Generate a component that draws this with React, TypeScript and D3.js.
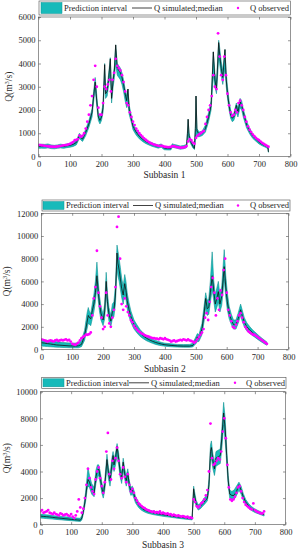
import * as d3 from 'd3';
import React, { useEffect, useRef } from 'react';

// ---- Subbasin 1 ----
const days1 = [0, 10, 20, 30, 40, 50, 60, 70, 80, 90, 100, 110, 120, 130, 135, 140, 150, 160, 170, 175, 180, 183, 187, 190, 195, 200, 205, 210, 213, 218, 223, 228, 232, 237, 241, 245, 250, 255, 260, 265, 270, 275, 280, 284, 288, 295, 300, 310, 320, 330, 340, 350, 360, 370, 380, 390, 395, 400, 410, 420, 425, 430, 440, 450, 460, 470, 473, 475, 478, 483, 490, 495, 498, 500, 503, 510, 520, 530, 540, 548, 555, 560, 565, 572, 575, 580, 585, 592, 596, 600, 605, 610, 615, 620, 628, 633, 640, 645, 650, 660, 670, 680, 690, 700, 710, 720, 728, 730];
const med1 = [430, 440, 430, 450, 420, 400, 420, 450, 430, 460, 480, 520, 600, 900, 800, 750, 1050, 1400, 1900, 2600, 3200, 2700, 2100, 1700, 1550, 1700, 2100, 3950, 2700, 2800, 3400, 4200, 2500, 3300, 3700, 4800, 3800, 3700, 3600, 3400, 3100, 2700, 2400, 2900, 2000, 1600, 1300, 1050, 870, 750, 650, 580, 520, 470, 430, 470, 400, 360, 350, 350, 480, 450, 420, 380, 400, 450, 1000, 1600, 900, 650, 450, 350, 1200, 2600, 1100, 950, 1000, 1200, 1700, 2200, 4500, 3300, 2900, 4900, 4400, 3800, 3400, 4600, 3300, 2700, 2200, 1800, 1650, 1700, 2200, 1900, 2350, 2200, 1900, 1400, 1100, 880, 750, 620, 530, 460, 400, 200];
const lo1 = [350, 360, 350, 370, 340, 330, 350, 370, 350, 380, 400, 430, 500, 780, 700, 650, 900, 1250, 1700, 2350, 2900, 2450, 1900, 1550, 1400, 1550, 1900, 3300, 2500, 2600, 3100, 3500, 2300, 3000, 3400, 4000, 3500, 3400, 3300, 3100, 2800, 2400, 2100, 2300, 1800, 1450, 1150, 920, 760, 650, 560, 500, 440, 400, 360, 400, 330, 290, 280, 280, 400, 380, 350, 310, 330, 380, 700, 900, 700, 550, 370, 300, 700, 900, 850, 850, 900, 1050, 1500, 2000, 3500, 3000, 2700, 4200, 4000, 3500, 3100, 3800, 3000, 2500, 2000, 1650, 1500, 1550, 1900, 1700, 2100, 2000, 1700, 1250, 980, 780, 660, 540, 460, 400, 340, 180];
const hi1 = [520, 530, 520, 540, 500, 480, 500, 530, 510, 540, 570, 620, 700, 1000, 900, 860, 1180, 1550, 2050, 2800, 3400, 2950, 2300, 1850, 1700, 1850, 2300, 4000, 2900, 3000, 3600, 4250, 2800, 3500, 3900, 4800, 4000, 3900, 3800, 3600, 3300, 2900, 2600, 2900, 2200, 1750, 1450, 1150, 970, 840, 730, 650, 590, 540, 500, 540, 470, 430, 420, 420, 550, 520, 490, 450, 470, 520, 1100, 1600, 1000, 750, 530, 450, 1300, 2600, 1200, 1050, 1100, 1350, 1900, 2400, 4500, 3600, 3200, 5000, 4700, 4100, 3700, 4600, 3600, 3000, 2400, 2000, 1800, 1850, 2300, 2100, 2500, 2400, 2050, 1550, 1220, 980, 840, 700, 600, 530, 460, 420];
// observed, one value every 5 days from day 0 to 730
const obs1 = [
  500, 490, 480, 470, 460, 450, 440, 430, 420, 420, 410, 420, 430, 440, 450, 470, 480, 490, 500, 520,
  540, 580, 620, 700, 710, 750, 900, 850, 900, 1000, 1200, 1500, 1800, 2200, 2600, 3300, 3900, 3000, 2100, 1800,
  1800, 2300, 3000, 2900, 3100, 3300, 2800, 3300, 3600, 4200, 3900, 3800, 3700, 3500, 3200, 2800, 2300, 2200, 1900, 1700,
  1500, 1350, 1200, 1100, 1000, 920, 850, 780, 720, 670, 620, 580, 550, 520, 500, 480, 460, 450, 470, 440,
  420, 410, 400, 400, 410, 450, 440, 420, 400, 390, 380, 380, 390, 400, 450, 650, 750, 700, 600, 550,
  800, 900, 950, 1000, 1050, 1100, 1400, 1700, 2000, 2200, 2600, 3500, 3000, 2900, 5300, 4300, 3500, 3300, 4300, 3500,
  2700, 2200, 1900, 1750, 1800, 2000, 1900, 2300, 2400, 2200, 2000, 1700, 1500, 1300, 1150, 1050, 950, 870, 800, 750,
  700, 640, 590, 540, 500, 460, 420,
];

// ---- Subbasin 2 ----
const days2 = [0, 10, 20, 30, 40, 50, 60, 70, 80, 90, 100, 110, 120, 130, 140, 148, 152, 156, 160, 165, 170, 175, 180, 184, 188, 193, 200, 205, 210, 214, 219, 225, 230, 235, 240, 245, 248, 252, 256, 260, 265, 270, 274, 278, 284, 290, 300, 310, 320, 330, 340, 350, 360, 370, 380, 390, 400, 420, 440, 460, 480, 490, 500, 505, 510, 520, 527, 532, 537, 542, 547, 553, 558, 563, 568, 573, 578, 584, 592, 597, 602, 608, 615, 622, 630, 637, 645, 650, 657, 665, 675, 685, 695, 705, 715, 725, 730];
const med2 = [600, 560, 520, 480, 440, 400, 380, 360, 340, 320, 310, 300, 320, 450, 1200, 2400, 3000, 2800, 2700, 3400, 4000, 5000, 6500, 5200, 4100, 3200, 2600, 3300, 6000, 4200, 3100, 2500, 3300, 3500, 4800, 8500, 7600, 7000, 6200, 5400, 4800, 5800, 5200, 4300, 3500, 2900, 2200, 1800, 1450, 1200, 1000, 850, 720, 620, 540, 470, 420, 360, 320, 300, 300, 350, 800, 1100, 1000, 1800, 3200, 4500, 3600, 3700, 5000, 6500, 5200, 4000, 4500, 5100, 4000, 4700, 7300, 5500, 4200, 3200, 2600, 2200, 2200, 2700, 3500, 3000, 2400, 2000, 1700, 1450, 1200, 1000, 800, 600, 500];
const lo2 = [300, 280, 260, 240, 220, 200, 190, 180, 170, 160, 150, 150, 150, 250, 800, 1800, 2300, 2200, 2100, 2700, 3300, 4200, 5500, 4400, 3400, 2600, 2100, 2700, 5000, 3500, 2500, 2000, 2700, 2900, 4000, 7200, 6500, 6000, 5300, 4600, 4000, 4900, 4400, 3600, 2900, 2400, 1800, 1450, 1150, 950, 780, 650, 540, 450, 380, 330, 290, 240, 210, 200, 200, 220, 500, 700, 700, 1300, 2500, 3700, 3000, 3100, 4100, 5300, 4300, 3300, 3700, 4200, 3300, 3900, 6200, 4600, 3500, 2700, 2200, 1800, 1800, 2300, 3000, 2500, 2000, 1650, 1400, 1200, 1000, 800, 620, 450, 380];
const hi2 = [900, 850, 800, 760, 720, 680, 650, 620, 600, 580, 560, 560, 600, 800, 1700, 3200, 3700, 3300, 3200, 4000, 4800, 6000, 7700, 6100, 4800, 3800, 3100, 4000, 6800, 5000, 3700, 3000, 4000, 4200, 5700, 9200, 8700, 8000, 7200, 6300, 5600, 6600, 6000, 5000, 4100, 3400, 2600, 2150, 1750, 1450, 1220, 1050, 900, 800, 700, 620, 560, 500, 450, 430, 450, 550, 1100, 1400, 1300, 2300, 3900, 5000, 4300, 4500, 6000, 8600, 6100, 4800, 5400, 6000, 4800, 5600, 8800, 6500, 5000, 3800, 3100, 2600, 2600, 3200, 4000, 3500, 2800, 2350, 2000, 1700, 1450, 1200, 980, 760, 650];
const obs2 = [
  900, 850, 800, 750, 700, 750, 800, 750, 700, 800, 850, 750, 800, 850, 800, 850, 900, 800, 850, 700,
  500, 450, 400, 500, 600, 800, 1000, 1100, 1200, 1300, 1300, 1350, 1500, 3000, 4500, 5500, 8700, 5000, 3800, 2800,
  1800, 2000, 5000, 3000, 2300, 2000, 2800, 3500, 5500, 10800, 11700, 8000, 4000, 3500, 4500, 3800, 3300, 3000, 2600, 2400,
  2100, 1900, 1750, 1600, 1500, 1400, 1350, 1250, 1200, 1150, 1100, 1050, 1000, 1000, 950, 950, 900, 1000, 950, 900,
  1000, 900, 850, 800, 700, 750, 800, 700, 750, 800, 850, 800, 900, 850, 800, 900, 800, 750, 700, 600,
  700, 900, 1100, 1300, 1500, 1800, 2800, 3200, 2600, 4200, 5500, 6300, 5000, 3000, 4500, 3500, 5200, 4800, 7000, 8000,
  5000, 3500, 3000, 2500, 2000, 1900, 2200, 2500, 3000, 3200, 2800, 2400, 2000, 1800, 1600, 1500, 1400, 1300, 1300, 1200,
  1100, 1000, 900, 800, 700, 600, 500,
];

// ---- Subbasin 3 ----
const days3 = [0, 10, 20, 30, 40, 50, 60, 70, 80, 90, 100, 110, 120, 130, 135, 140, 147, 152, 155, 160, 167, 175, 181, 186, 190, 195, 200, 205, 210, 217, 222, 227, 233, 237, 240, 245, 250, 255, 260, 265, 270, 275, 280, 285, 290, 295, 300, 305, 310, 320, 330, 340, 350, 360, 370, 380, 390, 400, 420, 440, 460, 480, 495, 500, 503, 508, 515, 522, 530, 538, 545, 550, 555, 558, 563, 568, 573, 580, 587, 592, 598, 603, 608, 613, 618, 625, 632, 640, 648, 655, 662, 670, 680, 690, 700, 710, 720, 730];
const med3 = [650, 620, 600, 580, 550, 520, 500, 480, 450, 430, 400, 380, 360, 340, 500, 1000, 2000, 3000, 3400, 3200, 2700, 2400, 3600, 4100, 4200, 3600, 2800, 2300, 3000, 4900, 3900, 3300, 4500, 5200, 4500, 5000, 5900, 5000, 4000, 3500, 4700, 3800, 3300, 3900, 3000, 2500, 2600, 2300, 1900, 1500, 1250, 1100, 1000, 930, 880, 830, 790, 750, 680, 610, 550, 500, 450, 2700, 2200, 1600, 1300, 1400, 1600, 1800, 2000, 3000, 5500, 5800, 4800, 4200, 5000, 5100, 5200, 6500, 8400, 7200, 5200, 3300, 2300, 2200, 2200, 2500, 3000, 2600, 2100, 1700, 1400, 1200, 1050, 950, 850, 750];
const lo3 = [500, 480, 460, 440, 420, 400, 380, 360, 340, 320, 300, 280, 260, 250, 350, 800, 1700, 2600, 2900, 2800, 2300, 2100, 3100, 3600, 3700, 3100, 2400, 2000, 2600, 4300, 3400, 2900, 4000, 4500, 4000, 4500, 5200, 4500, 3600, 3100, 4100, 3400, 2900, 3400, 2600, 2200, 2300, 2000, 1650, 1300, 1080, 950, 860, 800, 750, 710, 670, 630, 570, 510, 450, 400, 360, 2300, 1900, 1400, 1100, 1200, 1400, 1600, 1800, 2600, 4800, 5000, 4200, 3700, 4400, 4500, 4600, 5700, 7500, 6300, 4600, 2900, 2000, 1900, 1900, 2200, 2600, 2300, 1850, 1500, 1230, 1050, 920, 830, 740, 650];
const hi3 = [800, 760, 740, 720, 690, 660, 640, 620, 590, 570, 540, 520, 500, 480, 700, 1200, 2400, 3600, 4300, 3700, 3100, 2800, 4100, 4500, 4500, 4000, 3200, 2700, 3400, 5300, 4300, 3700, 5000, 5500, 4900, 5400, 6100, 5400, 4400, 3900, 5000, 4200, 3700, 4200, 3300, 2800, 2900, 2600, 2150, 1700, 1420, 1250, 1140, 1060, 1010, 960, 910, 870, 790, 720, 650, 600, 560, 2900, 2500, 1850, 1500, 1600, 1850, 2100, 2300, 3400, 6000, 6300, 5300, 4700, 5500, 5600, 5700, 7200, 9200, 8000, 5800, 3700, 2600, 2500, 2600, 2900, 3200, 2900, 2350, 1900, 1570, 1350, 1180, 1070, 960, 860];
const obs3 = [
  1000, 1100, 900, 950, 1000, 1100, 900, 850, 800, 900, 800, 750, 700, 850, 800, 700, 750, 800, 700, 650,
  800, 600, 500, 700, 1000, 1900, 1300, 900, 1200, 2000, 3000, 4200, 3500, 2800, 2500, 2300, 3400, 4000, 4300, 3500,
  2900, 2400, 3200, 5500, 6900, 3800, 3400, 4800, 4200, 5000, 5800, 4800, 3800, 3500, 4300, 3600, 3200, 3800, 3000, 2500,
  2700, 2400, 2000, 1800, 1600, 1500, 1400, 1300, 1250, 1150, 1100, 1050, 1000, 950, 1000, 900, 950, 900, 1000, 850,
  900, 850, 800, 850, 750, 800, 700, 750, 700, 650, 700, 650, 600, 650, 600, 550, 600, 500, 550, 500,
  1900, 1700, 1400, 1300, 1400, 1600, 1700, 1900, 2200, 2600, 4000, 7600, 5000, 4500, 4600, 4800, 5000, 4900, 5500, 7000,
  8000, 6500, 4500, 2800, 1900, 1800, 1900, 2100, 2400, 2800, 2900, 2500, 2000, 1700, 1500, 1400, 1300, 1200, 1150, 1600,
  1100, 1000, 950, 900, 850, 850, 1000,
];

const xTicks = [0, 100, 200, 300, 400, 500, 600, 700, 800];
const yTicks1 = [0, 1000, 2000, 3000, 4000, 5000, 6000];
const yTicks2 = [0, 2000, 4000, 6000, 8000, 10000, 12000];
const yTicks3 = [0, 2000, 4000, 6000, 8000, 10000];
const legendLabels = ['Prediction interval', 'Q simulated;median', 'Q observed'];

const panels = [
  {
    days: days1, med: med1, lo: lo1, hi: hi1, obs: obs1, yTicks: yTicks1, title: 'Subbasin 1',
    l: 38.5, r: 290.5, t: 17, b: 156.5, titleY: 178, yTitleX: 12,
    leg: { x0: 39, x1: 290.5, y0: 1, y1: 15, patch: 41, line: 132, dot: 238, dotText: 250 },
  },
  {
    days: days2, med: med2, lo: lo2, hi: hi2, obs: obs2, yTicks: yTicks2, title: 'Subbasin 2',
    l: 41.3, r: 288.5, t: 213.3, b: 349.5, titleY: 372, yTitleX: 10,
    leg: { x0: 42, x1: 290, y0: 200, y1: 211, patch: 43, line: 133, dot: 238, dotText: 250 },
  },
  {
    days: days3, med: med3, lo: lo3, hi: hi3, obs: obs3, yTicks: yTicks3, title: 'Subbasin 3',
    l: 40.5, r: 285.5, t: 391.7, b: 524.7, titleY: 548, yTitleX: 10,
    leg: { x0: 41.7, x1: 286, y0: 377.3, y1: 388.3, patch: 43, line: 129, dot: 235, dotText: 246 },
  },
];

const FONT = '"Liberation Serif", "Times New Roman", serif';
const BAND = '#17baba';
const BAND_EDGE = '#0e9494';
const AXIS = '#4d4d4d';

const App = () => {
  const svgRef = useRef(null);

  useEffect(() => {
    const svg = d3.select(svgRef.current);
    svg.selectAll('*').remove();

    panels.forEach((p, pi) => {
      const x = d3.scaleLinear().domain([0, 800]).range([p.l, p.r]);
      const y = d3.scaleLinear().domain([0, p.yTicks[p.yTicks.length - 1]]).range([p.b, p.t]);
      const g = svg.append('g');

      const clipId = 'clip' + pi;
      g.append('clipPath').attr('id', clipId)
        .append('rect').attr('x', p.l).attr('y', p.t).attr('width', p.r - p.l).attr('height', p.b - p.t);
      const plot = g.append('g').attr('clip-path', `url(#${clipId})`);

      const idx = d3.range(p.days.length);
      const area = d3.area<number>()
        .x((i) => x(p.days[i]))
        .y0((i) => y(p.lo[i]))
        .y1((i) => y(p.hi[i]));
      plot.append('path').datum(idx).attr('d', area)
        .attr('fill', BAND).attr('stroke', BAND_EDGE).attr('stroke-width', 0.6);

      const line = d3.line<number>()
        .x((i) => x(p.days[i]))
        .y((i) => y(p.med[i]));
      plot.append('path').datum(idx).attr('d', line)
        .attr('fill', 'none').attr('stroke', '#111').attr('stroke-width', 0.8);

      plot.append('g').selectAll('circle').data(p.obs).enter().append('circle')
        .attr('cx', (d, i) => x(i * 5))
        .attr('cy', (d) => y(d))
        .attr('r', 1.4)
        .attr('fill', '#ff00ff');

      // axes (ticks pointing inward, mirrored on top/right)
      const styleAxis = (sel) => {
        sel.select('.domain').remove();
        sel.selectAll('line').attr('stroke', AXIS).attr('stroke-width', 0.6);
        sel.selectAll('text').attr('fill', '#262626').style('font-family', FONT).style('font-size', '8.5px');
      };
      g.append('g').attr('transform', `translate(0,${p.b})`)
        .call(d3.axisBottom(x).tickValues(xTicks).tickSizeInner(-2.5).tickSizeOuter(0).tickPadding(4).tickFormat(d3.format('d')))
        .call(styleAxis);
      g.append('g').attr('transform', `translate(0,${p.t})`)
        .call(d3.axisTop(x).tickValues(xTicks).tickSizeInner(-2.5).tickSizeOuter(0).tickFormat(() => ''))
        .call(styleAxis);
      g.append('g').attr('transform', `translate(${p.l},0)`)
        .call(d3.axisLeft(y).tickValues(p.yTicks).tickSizeInner(-2.5).tickSizeOuter(0).tickPadding(3).tickFormat(d3.format('d')))
        .call(styleAxis);
      g.append('g').attr('transform', `translate(${p.r},0)`)
        .call(d3.axisRight(y).tickValues(p.yTicks).tickSizeInner(-2.5).tickSizeOuter(0).tickFormat(() => ''))
        .call(styleAxis);

      g.append('rect').attr('x', p.l).attr('y', p.t).attr('width', p.r - p.l).attr('height', p.b - p.t)
        .attr('fill', 'none').attr('stroke', AXIS).attr('stroke-width', 0.6);

      // titles
      g.append('text').attr('x', (p.l + p.r) / 2).attr('y', p.titleY)
        .attr('text-anchor', 'middle').attr('fill', '#262626')
        .style('font-family', FONT).style('font-size', '9.5px').text(p.title);
      const yt = g.append('text')
        .attr('transform', `translate(${p.yTitleX},${(p.t + p.b) / 2}) rotate(-90)`)
        .attr('text-anchor', 'middle').attr('fill', '#262626')
        .style('font-family', FONT).style('font-size', '9.5px');
      yt.append('tspan').text('Q(m');
      yt.append('tspan').attr('dy', -3.5).style('font-size', '6.5px').text('3');
      yt.append('tspan').attr('dy', 3.5).text('/s)');

      // legend
      const L = p.leg;
      const cy = (L.y0 + L.y1) / 2;
      g.append('rect').attr('x', L.x0).attr('y', L.y0).attr('width', L.x1 - L.x0).attr('height', L.y1 - L.y0)
        .attr('fill', '#fff').attr('stroke', AXIS).attr('stroke-width', 0.6);
      g.append('rect').attr('x', L.patch).attr('y', L.y0 + 1.5).attr('width', 21).attr('height', L.y1 - L.y0 - 3)
        .attr('fill', BAND).attr('stroke', BAND_EDGE).attr('stroke-width', 0.5);
      g.append('line').attr('x1', L.line).attr('x2', L.line + 20).attr('y1', cy).attr('y2', cy)
        .attr('stroke', '#111').attr('stroke-width', 0.8);
      g.append('circle').attr('cx', L.dot).attr('cy', cy).attr('r', 1.2).attr('fill', '#ff00ff');
      const textX = [L.patch + 23, L.line + 22, L.dotText];
      legendLabels.forEach((lab, k) => {
        g.append('text').attr('x', textX[k]).attr('y', cy).attr('dy', '0.33em')
          .attr('fill', '#262626').style('font-family', FONT).style('font-size', '8.5px').text(lab);
      });
    });
  }, []);

  return (
    <svg ref={svgRef} width={299} height={550}
      style={{ position: 'absolute', left: 0, top: 0, background: '#fff' }} />
  );
};

export default App;
